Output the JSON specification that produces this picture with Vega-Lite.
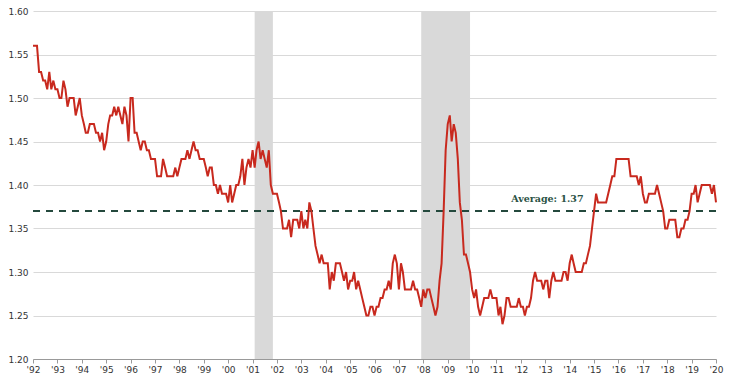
{
  "$schema": "https://vega.github.io/schema/vega-lite/v6.json",
  "width": 683,
  "height": 348,
  "autosize": {"type": "none"},
  "padding": {"left": 33, "top": 11, "right": 13, "bottom": 24},
  "config": {
    "view": {"stroke": null},
    "font": "DejaVu Sans",
    "axis": {"labelFont": "DejaVu Sans", "labelColor": "#333333", "labelFontSize": 9},
    "axisX": {"format": "'%y", "formatType": "utc", "tickCount": {"interval": "year", "step": 1}, "grid": false, "domainColor": "#999999", "tickColor": "#999999", "tickSize": 4, "labelPadding": 2, "title": null, "labelFlush": false, "labelOverlap": false}
  },
  "datasets": {
    "series": [
      {"d":"1992-01-01","v":1.56},{"d":"1992-02-01","v":1.56},{"d":"1992-03-01","v":1.56},{"d":"1992-04-01","v":1.53},{"d":"1992-05-01","v":1.53},{"d":"1992-06-01","v":1.52},{"d":"1992-07-01","v":1.52},{"d":"1992-08-01","v":1.51},{"d":"1992-09-01","v":1.53},{"d":"1992-10-01","v":1.51},{"d":"1992-11-01","v":1.52},{"d":"1992-12-01","v":1.51},
      {"d":"1993-01-01","v":1.51},{"d":"1993-02-01","v":1.50},{"d":"1993-03-01","v":1.50},{"d":"1993-04-01","v":1.52},{"d":"1993-05-01","v":1.51},{"d":"1993-06-01","v":1.49},{"d":"1993-07-01","v":1.50},{"d":"1993-08-01","v":1.50},{"d":"1993-09-01","v":1.50},{"d":"1993-10-01","v":1.48},{"d":"1993-11-01","v":1.49},{"d":"1993-12-01","v":1.50},
      {"d":"1994-01-01","v":1.48},{"d":"1994-02-01","v":1.47},{"d":"1994-03-01","v":1.46},{"d":"1994-04-01","v":1.46},{"d":"1994-05-01","v":1.47},{"d":"1994-06-01","v":1.47},{"d":"1994-07-01","v":1.47},{"d":"1994-08-01","v":1.46},{"d":"1994-09-01","v":1.46},{"d":"1994-10-01","v":1.45},{"d":"1994-11-01","v":1.46},{"d":"1994-12-01","v":1.44},
      {"d":"1995-01-01","v":1.45},{"d":"1995-02-01","v":1.47},{"d":"1995-03-01","v":1.48},{"d":"1995-04-01","v":1.48},{"d":"1995-05-01","v":1.49},{"d":"1995-06-01","v":1.48},{"d":"1995-07-01","v":1.49},{"d":"1995-08-01","v":1.48},{"d":"1995-09-01","v":1.47},{"d":"1995-10-01","v":1.49},{"d":"1995-11-01","v":1.48},{"d":"1995-12-01","v":1.45},
      {"d":"1996-01-01","v":1.50},{"d":"1996-02-01","v":1.50},{"d":"1996-03-01","v":1.46},{"d":"1996-04-01","v":1.46},{"d":"1996-05-01","v":1.45},{"d":"1996-06-01","v":1.44},{"d":"1996-07-01","v":1.45},{"d":"1996-08-01","v":1.45},{"d":"1996-09-01","v":1.44},{"d":"1996-10-01","v":1.44},{"d":"1996-11-01","v":1.43},{"d":"1996-12-01","v":1.43},
      {"d":"1997-01-01","v":1.43},{"d":"1997-02-01","v":1.41},{"d":"1997-03-01","v":1.41},{"d":"1997-04-01","v":1.41},{"d":"1997-05-01","v":1.43},{"d":"1997-06-01","v":1.42},{"d":"1997-07-01","v":1.41},{"d":"1997-08-01","v":1.41},{"d":"1997-09-01","v":1.41},{"d":"1997-10-01","v":1.41},{"d":"1997-11-01","v":1.42},{"d":"1997-12-01","v":1.41},
      {"d":"1998-01-01","v":1.42},{"d":"1998-02-01","v":1.43},{"d":"1998-03-01","v":1.43},{"d":"1998-04-01","v":1.43},{"d":"1998-05-01","v":1.44},{"d":"1998-06-01","v":1.43},{"d":"1998-07-01","v":1.44},{"d":"1998-08-01","v":1.45},{"d":"1998-09-01","v":1.44},{"d":"1998-10-01","v":1.44},{"d":"1998-11-01","v":1.43},{"d":"1998-12-01","v":1.43},
      {"d":"1999-01-01","v":1.43},{"d":"1999-02-01","v":1.42},{"d":"1999-03-01","v":1.41},{"d":"1999-04-01","v":1.42},{"d":"1999-05-01","v":1.42},{"d":"1999-06-01","v":1.40},{"d":"1999-07-01","v":1.40},{"d":"1999-08-01","v":1.39},{"d":"1999-09-01","v":1.40},{"d":"1999-10-01","v":1.39},{"d":"1999-11-01","v":1.39},{"d":"1999-12-01","v":1.39},
      {"d":"2000-01-01","v":1.38},{"d":"2000-02-01","v":1.40},{"d":"2000-03-01","v":1.38},{"d":"2000-04-01","v":1.39},{"d":"2000-05-01","v":1.40},{"d":"2000-06-01","v":1.40},{"d":"2000-07-01","v":1.41},{"d":"2000-08-01","v":1.43},{"d":"2000-09-01","v":1.40},{"d":"2000-10-01","v":1.42},{"d":"2000-11-01","v":1.43},{"d":"2000-12-01","v":1.42},
      {"d":"2001-01-01","v":1.44},{"d":"2001-02-01","v":1.42},{"d":"2001-03-01","v":1.44},{"d":"2001-04-01","v":1.45},{"d":"2001-05-01","v":1.43},{"d":"2001-06-01","v":1.44},{"d":"2001-07-01","v":1.43},{"d":"2001-08-01","v":1.42},{"d":"2001-09-01","v":1.44},{"d":"2001-10-01","v":1.40},{"d":"2001-11-01","v":1.39},{"d":"2001-12-01","v":1.39},
      {"d":"2002-01-01","v":1.39},{"d":"2002-02-01","v":1.38},{"d":"2002-03-01","v":1.37},{"d":"2002-04-01","v":1.35},{"d":"2002-05-01","v":1.35},{"d":"2002-06-01","v":1.35},{"d":"2002-07-01","v":1.36},{"d":"2002-08-01","v":1.34},{"d":"2002-09-01","v":1.36},{"d":"2002-10-01","v":1.36},{"d":"2002-11-01","v":1.36},{"d":"2002-12-01","v":1.35},
      {"d":"2003-01-01","v":1.37},{"d":"2003-02-01","v":1.35},{"d":"2003-03-01","v":1.36},{"d":"2003-04-01","v":1.35},{"d":"2003-05-01","v":1.38},{"d":"2003-06-01","v":1.37},{"d":"2003-07-01","v":1.35},{"d":"2003-08-01","v":1.33},{"d":"2003-09-01","v":1.32},{"d":"2003-10-01","v":1.31},{"d":"2003-11-01","v":1.32},{"d":"2003-12-01","v":1.31},
      {"d":"2004-01-01","v":1.31},{"d":"2004-02-01","v":1.31},{"d":"2004-03-01","v":1.28},{"d":"2004-04-01","v":1.30},{"d":"2004-05-01","v":1.29},{"d":"2004-06-01","v":1.31},{"d":"2004-07-01","v":1.31},{"d":"2004-08-01","v":1.31},{"d":"2004-09-01","v":1.30},{"d":"2004-10-01","v":1.29},{"d":"2004-11-01","v":1.30},{"d":"2004-12-01","v":1.28},
      {"d":"2005-01-01","v":1.29},{"d":"2005-02-01","v":1.29},{"d":"2005-03-01","v":1.30},{"d":"2005-04-01","v":1.28},{"d":"2005-05-01","v":1.29},{"d":"2005-06-01","v":1.28},{"d":"2005-07-01","v":1.27},{"d":"2005-08-01","v":1.26},{"d":"2005-09-01","v":1.25},{"d":"2005-10-01","v":1.25},{"d":"2005-11-01","v":1.26},{"d":"2005-12-01","v":1.26},
      {"d":"2006-01-01","v":1.25},{"d":"2006-02-01","v":1.26},{"d":"2006-03-01","v":1.26},{"d":"2006-04-01","v":1.27},{"d":"2006-05-01","v":1.27},{"d":"2006-06-01","v":1.28},{"d":"2006-07-01","v":1.28},{"d":"2006-08-01","v":1.29},{"d":"2006-09-01","v":1.28},{"d":"2006-10-01","v":1.31},{"d":"2006-11-01","v":1.32},{"d":"2006-12-01","v":1.31},
      {"d":"2007-01-01","v":1.28},{"d":"2007-02-01","v":1.31},{"d":"2007-03-01","v":1.30},{"d":"2007-04-01","v":1.28},{"d":"2007-05-01","v":1.28},{"d":"2007-06-01","v":1.28},{"d":"2007-07-01","v":1.28},{"d":"2007-08-01","v":1.29},{"d":"2007-09-01","v":1.28},{"d":"2007-10-01","v":1.28},{"d":"2007-11-01","v":1.27},{"d":"2007-12-01","v":1.26},
      {"d":"2008-01-01","v":1.28},{"d":"2008-02-01","v":1.27},{"d":"2008-03-01","v":1.28},{"d":"2008-04-01","v":1.28},{"d":"2008-05-01","v":1.27},{"d":"2008-06-01","v":1.26},{"d":"2008-07-01","v":1.25},{"d":"2008-08-01","v":1.26},{"d":"2008-09-01","v":1.29},{"d":"2008-10-01","v":1.31},{"d":"2008-11-01","v":1.37},{"d":"2008-12-01","v":1.44},
      {"d":"2009-01-01","v":1.47},{"d":"2009-02-01","v":1.48},{"d":"2009-03-01","v":1.45},{"d":"2009-04-01","v":1.47},{"d":"2009-05-01","v":1.46},{"d":"2009-06-01","v":1.43},{"d":"2009-07-01","v":1.38},{"d":"2009-08-01","v":1.36},{"d":"2009-09-01","v":1.32},{"d":"2009-10-01","v":1.32},{"d":"2009-11-01","v":1.31},{"d":"2009-12-01","v":1.30},
      {"d":"2010-01-01","v":1.28},{"d":"2010-02-01","v":1.27},{"d":"2010-03-01","v":1.28},{"d":"2010-04-01","v":1.26},{"d":"2010-05-01","v":1.25},{"d":"2010-06-01","v":1.26},{"d":"2010-07-01","v":1.27},{"d":"2010-08-01","v":1.27},{"d":"2010-09-01","v":1.27},{"d":"2010-10-01","v":1.28},{"d":"2010-11-01","v":1.27},{"d":"2010-12-01","v":1.27},
      {"d":"2011-01-01","v":1.27},{"d":"2011-02-01","v":1.25},{"d":"2011-03-01","v":1.26},{"d":"2011-04-01","v":1.24},{"d":"2011-05-01","v":1.25},{"d":"2011-06-01","v":1.27},{"d":"2011-07-01","v":1.27},{"d":"2011-08-01","v":1.26},{"d":"2011-09-01","v":1.26},{"d":"2011-10-01","v":1.26},{"d":"2011-11-01","v":1.26},{"d":"2011-12-01","v":1.27},
      {"d":"2012-01-01","v":1.26},{"d":"2012-02-01","v":1.26},{"d":"2012-03-01","v":1.25},{"d":"2012-04-01","v":1.26},{"d":"2012-05-01","v":1.26},{"d":"2012-06-01","v":1.27},{"d":"2012-07-01","v":1.29},{"d":"2012-08-01","v":1.30},{"d":"2012-09-01","v":1.29},{"d":"2012-10-01","v":1.29},{"d":"2012-11-01","v":1.29},{"d":"2012-12-01","v":1.28},
      {"d":"2013-01-01","v":1.29},{"d":"2013-02-01","v":1.29},{"d":"2013-03-01","v":1.27},{"d":"2013-04-01","v":1.29},{"d":"2013-05-01","v":1.30},{"d":"2013-06-01","v":1.29},{"d":"2013-07-01","v":1.29},{"d":"2013-08-01","v":1.29},{"d":"2013-09-01","v":1.29},{"d":"2013-10-01","v":1.30},{"d":"2013-11-01","v":1.30},{"d":"2013-12-01","v":1.29},
      {"d":"2014-01-01","v":1.31},{"d":"2014-02-01","v":1.32},{"d":"2014-03-01","v":1.31},{"d":"2014-04-01","v":1.30},{"d":"2014-05-01","v":1.30},{"d":"2014-06-01","v":1.30},{"d":"2014-07-01","v":1.30},{"d":"2014-08-01","v":1.31},{"d":"2014-09-01","v":1.31},{"d":"2014-10-01","v":1.32},{"d":"2014-11-01","v":1.33},{"d":"2014-12-01","v":1.35},
      {"d":"2015-01-01","v":1.37},{"d":"2015-02-01","v":1.39},{"d":"2015-03-01","v":1.38},{"d":"2015-04-01","v":1.38},{"d":"2015-05-01","v":1.38},{"d":"2015-06-01","v":1.38},{"d":"2015-07-01","v":1.38},{"d":"2015-08-01","v":1.39},{"d":"2015-09-01","v":1.40},{"d":"2015-10-01","v":1.41},{"d":"2015-11-01","v":1.41},{"d":"2015-12-01","v":1.43},
      {"d":"2016-01-01","v":1.43},{"d":"2016-02-01","v":1.43},{"d":"2016-03-01","v":1.43},{"d":"2016-04-01","v":1.43},{"d":"2016-05-01","v":1.43},{"d":"2016-06-01","v":1.43},{"d":"2016-07-01","v":1.41},{"d":"2016-08-01","v":1.41},{"d":"2016-09-01","v":1.41},{"d":"2016-10-01","v":1.41},{"d":"2016-11-01","v":1.40},{"d":"2016-12-01","v":1.41},
      {"d":"2017-01-01","v":1.39},{"d":"2017-02-01","v":1.38},{"d":"2017-03-01","v":1.38},{"d":"2017-04-01","v":1.39},{"d":"2017-05-01","v":1.39},{"d":"2017-06-01","v":1.39},{"d":"2017-07-01","v":1.39},{"d":"2017-08-01","v":1.40},{"d":"2017-09-01","v":1.39},{"d":"2017-10-01","v":1.38},{"d":"2017-11-01","v":1.37},{"d":"2017-12-01","v":1.35},
      {"d":"2018-01-01","v":1.35},{"d":"2018-02-01","v":1.36},{"d":"2018-03-01","v":1.36},{"d":"2018-04-01","v":1.36},{"d":"2018-05-01","v":1.36},{"d":"2018-06-01","v":1.34},{"d":"2018-07-01","v":1.34},{"d":"2018-08-01","v":1.35},{"d":"2018-09-01","v":1.35},{"d":"2018-10-01","v":1.36},{"d":"2018-11-01","v":1.36},{"d":"2018-12-01","v":1.37},
      {"d":"2019-01-01","v":1.39},{"d":"2019-02-01","v":1.39},{"d":"2019-03-01","v":1.40},{"d":"2019-04-01","v":1.38},{"d":"2019-05-01","v":1.39},{"d":"2019-06-01","v":1.40},{"d":"2019-07-01","v":1.40},{"d":"2019-08-01","v":1.40},{"d":"2019-09-01","v":1.40},{"d":"2019-10-01","v":1.40},{"d":"2019-11-01","v":1.39},{"d":"2019-12-01","v":1.40},
      {"d":"2020-01-01","v":1.38}
    ],
    "recessions": [
      {"s":"2001-02-01","e":"2001-11-01"},
      {"s":"2007-12-01","e":"2009-12-01"}
    ],
    "avg": [{"v":1.37}],
    "label": [{"d":"2013-02-01","v":1.384,"t":"Average: 1.37"}]
  },
  "layer": [
    {
      "data": {"name": "recessions"},
      "mark": {"type": "rect", "color": "#d9d9d9"},
      "encoding": {
        "x": {"field": "s", "type": "temporal", "scale": {"type": "utc", "domain": [{"year": 1992, "month": 1, "date": 1, "utc": true}, {"year": 2020, "month": 1, "date": 1, "utc": true}]}},
        "x2": {"field": "e"}
      }
    },
    {
      "data": {"name": "series"},
      "mark": {"type": "rule", "color": "#d9d9d9", "opacity": 0},
      "encoding": {
        "y": {"field": "v", "type": "quantitative", "scale": {"domain": [1.2, 1.6], "nice": false, "zero": false},
          "axis": {"values": [1.2, 1.25, 1.3, 1.35, 1.4, 1.45, 1.5, 1.55, 1.6], "format": ".2f", "grid": true, "gridColor": "#d9d9d9", "domain": false, "ticks": false, "labelPadding": 5, "title": null}}
      }
    },
    {
      "data": {"name": "avg"},
      "mark": {"type": "rule", "color": "#24493d", "strokeWidth": 2, "strokeDash": [7, 6]},
      "encoding": {"y": {"field": "v", "type": "quantitative"}}
    },
    {
      "data": {"name": "series"},
      "mark": {"type": "line", "color": "#c8291e", "strokeWidth": 2, "interpolate": "linear"},
      "encoding": {
        "x": {"field": "d", "type": "temporal"},
        "y": {"field": "v", "type": "quantitative"}
      }
    },
    {
      "data": {"name": "label"},
      "mark": {"type": "text", "font": "DejaVu Serif", "fontWeight": "bold", "fontSize": 9.5, "color": "#2a5244", "align": "center", "baseline": "middle"},
      "encoding": {
        "x": {"field": "d", "type": "temporal"},
        "y": {"field": "v", "type": "quantitative"},
        "text": {"field": "t"}
      }
    }
  ]
}
